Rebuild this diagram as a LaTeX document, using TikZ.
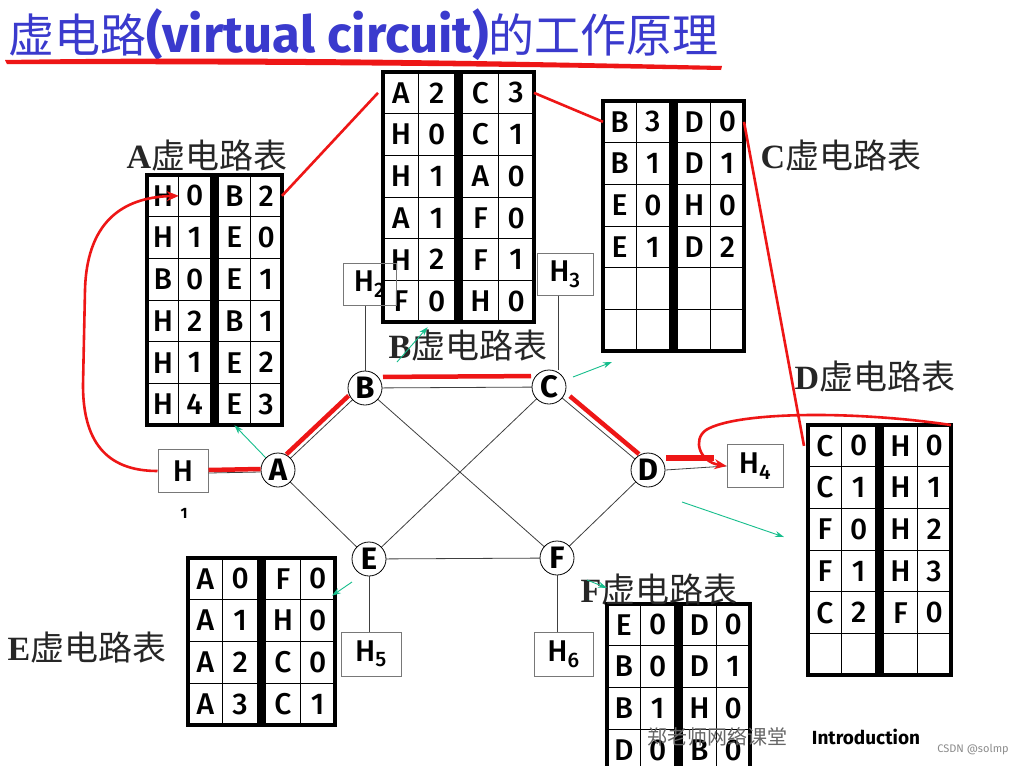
\documentclass[tikz,border=0pt]{standalone}
\usepackage{fontspec}
\setmainfont{Liberation Serif}
\setsansfont{Fira Sans}
\newfontfamily\cjk{Noto Sans CJK SC}
\newfontfamily\cellfam{Fira Sans Medium}
\usetikzlibrary{positioning, arrows.meta, calc}

\definecolor{titleblue}{RGB}{58,58,205}
\definecolor{pathred}{RGB}{238,22,22}
\definecolor{hintgreen}{RGB}{22,190,140}
\definecolor{hostgray}{RGB}{120,120,120}

\newcommand{\cellh}{41.7}
\newcommand{\cellfont}{\cellfam\fontsize{30}{30}\selectfont}

% \vctable{name}{left}{top}{width}{rows}{entries}
\newcommand{\vctable}[6]{%
  \pgfmathsetmacro{\qw}{(#4-8)/4}
  \foreach \ca/\cb/\cc/\cd [count=\rw] in {#6} {
    \pgfmathsetmacro{\ty}{#3+(\rw-1)*\cellh}
    \node[cell, minimum width=\qw pt, anchor=north west] (#1-\rw-1) at (#2,\ty) {\ca};
    \node[cell, minimum width=\qw pt, anchor=north west] (#1-\rw-2) at (#1-\rw-1.north east) {\cb};
    \node[cell, minimum width=\qw pt, anchor=north west] (#1-\rw-3) at ($(#1-\rw-2.north east)+(8,0)$) {\cc};
    \node[cell, minimum width=\qw pt, anchor=north west] (#1-\rw-4) at (#1-\rw-3.north east) {\cd};
  }
  \pgfmathsetmacro{\tb}{#3+#5*\cellh}
  \pgfmathsetmacro{\tm}{#2+2*\qw}
  \fill (\tm,#3) rectangle (\tm+8,\tb);
  \draw[line width=4pt] (#2,#3) rectangle (#2+#4,\tb);
}

\begin{document}
\begin{tikzpicture}[x=1pt, y=-1pt,
  cell/.style={draw, line width=0.9pt, fill=white, minimum height=\cellh pt, inner sep=0pt, outer sep=0pt, font=\cellfont},
  router/.style={circle, draw, line width=0.8pt, fill=white, minimum size=34pt, inner sep=0pt, font=\sffamily\bfseries\fontsize{31}{31}\selectfont},
  host/.style={draw=hostgray, line width=1pt, fill=white, inner sep=0pt, font=\cellfam\fontsize{30}{30}\selectfont},
  tablabel/.style={inner sep=0pt, text=black!85, font=\fontsize{34}{34}\selectfont},
  link/.style={line width=0.8pt, black!75},
  vcpath/.style={line width=4.5pt, pathred},
  redline/.style={line width=2.6pt, pathred},
  hint/.style={line width=0.9pt, hintgreen, -{Stealth[length=9pt,width=6pt]}}
]
\clip (0,0) rectangle (1021,766);
\fill[white] (0,0) rectangle (1021,766);

% Title and its brush stroke
\node[anchor=west, inner sep=0pt, text=titleblue] (title) at (8,35)
  {{\cjk\fontsize{46}{46}\selectfont 虚电路}{\sffamily\bfseries\fontsize{51}{51}\selectfont (virtual circuit)}{\cjk\fontsize{46}{46}\selectfont 的工作原理}};
\fill[pathred] (5,60) .. controls (250,56) and (500,61) .. (722,66)
  -- (721,70) .. controls (500,66) and (250,64) .. (7,64) -- cycle;

% Virtual circuit tables
\vctable{tA}{147}{175}{135}{6}{H/0/B/2, H/1/E/0, B/0/E/1, H/2/B/1, H/1/E/2, H/4/E/3}
\vctable{tB}{383}{72}{151}{6}{A/2/C/3, H/0/C/1, H/1/A/0, A/1/F/0, H/2/F/1, F/0/H/0}
\vctable{tC}{603}{101}{141}{6}{B/3/D/0, B/1/D/1, E/0/H/0, E/1/D/2, {}/{}/{}/{}, {}/{}/{}/{}}
\vctable{tD}{808}{425}{143}{6}{C/0/H/0, C/1/H/1, F/0/H/2, F/1/H/3, C/2/F/0, {}/{}/{}/{}}
\vctable{tE}{188}{558}{147}{4}{A/0/F/0, A/1/H/0, A/2/C/0, A/3/C/1}
\vctable{tF}{607}{604}{143}{4}{E/0/D/0, B/0/D/1, B/1/H/0, D/0/B/0}

% Table labels
\node[tablabel] (labA) at (207,156) {\textbf{A}\cjk 虚电路表};
\node[tablabel] (labB) at (468,346) {\textbf{B}\cjk 虚电路表};
\node[tablabel] (labC) at (841,156) {\textbf{C}\cjk 虚电路表};
\node[tablabel] (labD) at (875,377) {\textbf{D}\cjk 虚电路表};
\node[tablabel] (labE) at (87,648) {\textbf{E}\cjk 虚电路表};
\node[tablabel] (labF) at (659,590) {\textbf{F}\cjk 虚电路表};

% Hosts
\node[host, minimum width=50pt, minimum height=43pt] (H1) at (183,471) {H};
\node[font=\sffamily\bfseries\fontsize{15}{15}\selectfont] (h1sub) at (184,513) {1};
\node[host, fill=none, minimum width=53pt, minimum height=42pt] (H2) at (369.5,284) {H\textsubscript{2}};
\node[host, minimum width=56pt, minimum height=42pt] (H3) at (565,274) {H\textsubscript{3}};
\node[host, minimum width=56pt, minimum height=43pt] (H4) at (755,466) {H\textsubscript{4}};
\node[host, minimum width=60pt, minimum height=44pt] (H5) at (371,654) {H\textsubscript{5}};
\node[host, minimum width=59pt, minimum height=44pt] (H6) at (563.5,654) {H\textsubscript{6}};

% Routers
\coordinate (pA) at (278,470);
\coordinate (pB) at (365,388);
\coordinate (pC) at (549,387);
\coordinate (pD) at (648,470);
\coordinate (pE) at (369,559);
\coordinate (pF) at (557,558);
\draw[link] (pA) -- (pB) -- (pC) -- (pD) -- (pF) -- (pE) -- cycle;
\draw[link] (pB) -- (pF);
\draw[link] (pC) -- (pE);
\node[router] (A) at (pA) {A};
\node[router] (B) at (pB) {B};
\node[router] (C) at (pC) {C};
\node[router] (D) at (pD) {D};
\node[router] (E) at (pE) {E};
\node[router] (F) at (pF) {F};

% Access links
\draw[link] ([yshift=-2pt]H1.east) -- ([yshift=-2pt]A.west);
\draw[link] (D.east) -- (H4.west);
\draw[link] (B.north) -- (B.north |- H2.south);
\draw[link] ([xshift=-7pt]H3.south) -- ([xshift=-7pt]H3.south |- C.north);
\draw[link] (E.south) -- (E.south |- H5.north);
\draw[link] (F.south) -- (F.south |- H6.north);

% Virtual circuit path
\draw[vcpath] ($(H1.east)+(0,-1)$) -- ($(A.west)+(0,-1)$);
\draw[vcpath] ($(A)!17pt!(B)+(-4,-4)$) -- ($(B)!17pt!(A)+(-4,-4)$);
\draw[vcpath] ($(B)!18pt!(C)+(0,-11)$) -- ($(C)!18pt!(B)+(0,-11)$);
\draw[vcpath] ($(C)!22pt!(D)+(4,-5)$) -- ($(D)!17pt!(C)+(4,-5)$);
\draw[vcpath, line width=6pt] ($(D.east)+(1,-12)$) -- ($(H4.west)+(-13,-8)$);
\draw[redline, -{Stealth[length=12pt,width=10pt]}] (H1.west)
  .. controls (105,471) and (83,440) .. (83,385) -- (85,290)
  .. controls (87,215) and (130,197) .. (tA-1-1.east);
\draw[redline, -{Stealth[length=12pt,width=10pt]}] (tD-1-4.north east)
  .. controls (850,410) and (735,412) .. (706,430)
  .. controls (692,440) and (700,462) .. (H4.west);

% Links between tables
\draw[redline] (tA-1-4.east) -- ([xshift=-5pt]tB-1-1.west);
\draw[redline] (tB-1-4.east) -- (tC-1-1.west);
\draw[redline] (tC-1-4.east) -- ([xshift=-4pt]tD-1-1.west);

% Hints to tables
\coordinate (gB) at (397,362);
\coordinate (gC) at (573,377);
\coordinate (gCt) at (612,362);
\coordinate (gD) at (682,502);
\coordinate (gDt) at (784,537);
\coordinate (gE) at (352,582);
\coordinate (gF) at (587,580);
\coordinate (gFt) at (607,588);
\draw[hint] (A.north west) -- (tA-6-3.south);
\draw[hint] (gB) -- ([xshift=-9pt,yshift=-5pt]tB-6-2.south);
\draw[hint] (gC) -- (gCt);
\draw[hint] (gD) -- (gDt);
\draw[hint] (gE) -- ([xshift=-3pt,yshift=4pt]tE-1-4.south east);
\draw[hint] (gF) -- (gFt);

% Footer
\node[text=black!60, font=\cjk\fontsize{20}{20}\selectfont] (teacher) at (717,737) {郑老师网络课堂};
\node[font=\sffamily\bfseries\fontsize{19}{19}\selectfont] (intro) at (866,737) {Introduction};
\node[text=black!45, font=\sffamily\fontsize{11}{11}\selectfont] (csdn) at (973,750) {CSDN @solmp};
\end{tikzpicture}
\end{document}
